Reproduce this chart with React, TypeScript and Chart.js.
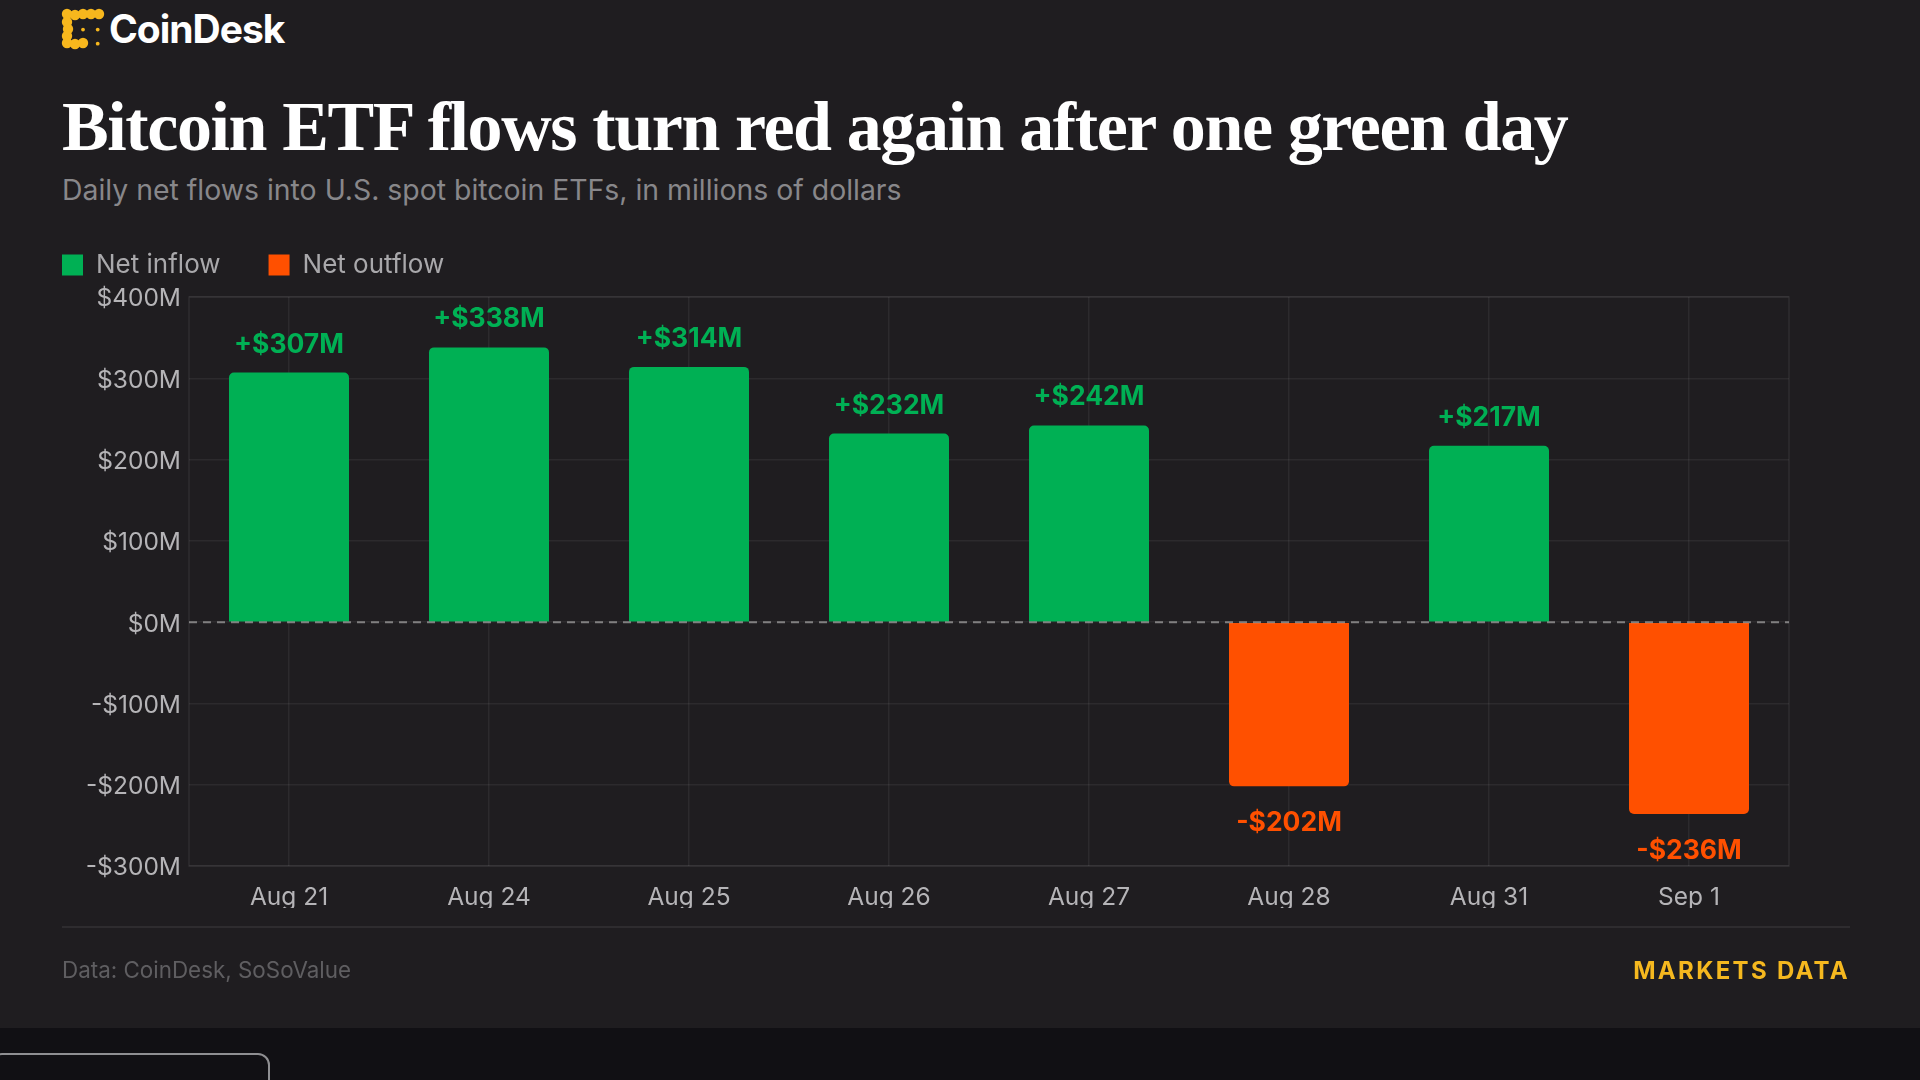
import React, { useEffect, useRef } from "react";
import { Chart, registerables } from "chart.js";

Chart.register(...registerables);

const categories = ["Aug 21", "Aug 24", "Aug 25", "Aug 26", "Aug 27", "Aug 28", "Aug 31", "Sep 1"];
const netInflow = [307, 338, 314, 232, 242, null, 217, null];
const netOutflow = [null, null, null, null, null, -202, null, -236];

const GREEN = "#00b054";
const ORANGE = "#ff5000";
const PANEL = "#1f1d20";
const SANS = "Inter, 'Noto Sans', sans-serif";
const LEGEND_PAD = 48;

const fmtAxis = (v: number) => (v < 0 ? `-$${Math.abs(v)}M` : `$${v}M`);
const fmtLabel = (v: number) => (v < 0 ? `-$${Math.abs(v)}M` : `+$${v}M`);

const chromePlugin = {
  id: "chrome",
  beforeDraw(chart: any) {
    const yScale = chart.scales.y;
    if (!yScale.__shifted) {
      yScale.getLabelItems(chart.chartArea).forEach((item: any) => {
        item.textOffset += 2;
      });
      yScale.__shifted = true;
    }
  },
  beforeDatasetsDraw(chart: any) {
    const { ctx, chartArea: a } = chart;
    ctx.save();
    ctx.strokeStyle = "rgba(255,255,255,0.07)";
    ctx.lineWidth = 1.5;
    ctx.strokeRect(a.left, a.top, a.right - a.left, a.bottom - a.top);
    ctx.restore();
  },
  afterDatasetsDraw(chart: any) {
    const { ctx, chartArea: a, scales } = chart;
    const y0 = scales.y.getPixelForValue(0);
    ctx.save();
    ctx.strokeStyle = "rgba(190,190,190,0.6)";
    ctx.lineWidth = 2;
    ctx.setLineDash([8, 6]);
    ctx.beginPath();
    ctx.moveTo(a.left, y0);
    ctx.lineTo(a.right, y0);
    ctx.stroke();
    ctx.setLineDash([]);
    ctx.font = `700 26.5px ${SANS}`;
    ctx.textAlign = "center";
    ctx.textBaseline = "middle";
    chart.data.datasets.forEach((ds: any, di: number) => {
      chart.getDatasetMeta(di).data.forEach((el: any, i: number) => {
        const v = ds.data[i];
        if (v === null || v === undefined) return;
        ctx.fillStyle = v < 0 ? ORANGE : GREEN;
        ctx.fillText(fmtLabel(v), el.x, v < 0 ? el.y + 37 : el.y - 28);
      });
    });
    ctx.restore();
  },
};

const legendFitPlugin = {
  id: "legendFit",
  beforeLayout(chart: any) {
    const lg = chart.legend;
    if (lg && !lg.__patched) {
      const fit = lg.fit;
      lg.fit = function () {
        fit.call(this);
        this.height = 93;
      };
      const draw = lg.draw;
      lg.draw = function () {
        const left = this.left;
        this.left = left - LEGEND_PAD;
        draw.call(this);
        this.left = left;
      };
      lg.__patched = true;
    }
  },
};

const logoChain: [number, number][] = [
  [67, 14], [75, 15], [83, 14], [91, 14], [99, 14],
  [67, 22], [68, 29], [67, 36], [67, 43],
  [75, 44], [83, 43],
];

export default function App() {
  const ref = useRef<HTMLCanvasElement>(null);
  useEffect(() => {
    const chart = new Chart(ref.current as HTMLCanvasElement, {
      type: "bar",
      data: {
        labels: categories,
        datasets: [
          { label: "Net inflow", data: netInflow, backgroundColor: GREEN, borderRadius: 5, grouped: false, barPercentage: 0.6, categoryPercentage: 1 } as any,
          { label: "Net outflow", data: netOutflow, backgroundColor: ORANGE, borderRadius: 5, grouped: false, barPercentage: 0.6, categoryPercentage: 1 } as any,
        ],
      },
      options: {
        responsive: false,
        animation: false,
        devicePixelRatio: 1,
        layout: { padding: { left: 62, top: 204, right: 131, bottom: 154 } },
        plugins: {
          title: { display: false },
          tooltip: { enabled: false },
          legend: {
            position: "top",
            align: "start",
            labels: {
              boxWidth: 21,
              boxHeight: 21,
              padding: LEGEND_PAD,
              color: "#a9a8ab",
              font: { family: SANS, size: 26 },
            },
          },
        },
        scales: {
          x: {
            afterFit: (s: any) => { s.height = 60; },
            grid: { offset: false, color: "rgba(255,255,255,0.06)", lineWidth: 1.5, drawTicks: false },
            border: { display: false },
            ticks: { color: "#b5b4b7", padding: 17, maxRotation: 0, font: { family: SANS, size: 24.5 } },
          },
          y: {
            min: -300,
            max: 400,
            afterFit: (s: any) => { s.width = 127; },
            grid: { color: "rgba(255,255,255,0.06)", lineWidth: 1.5, drawTicks: false },
            border: { display: false },
            ticks: { stepSize: 100, color: "#b5b4b7", padding: 8, font: { family: SANS, size: 24.5 }, callback: (v: any) => fmtAxis(Number(v)) },
          },
        },
      } as any,
      plugins: [chromePlugin, legendFitPlugin],
    });
    return () => chart.destroy();
  }, []);

  const abs = (o: React.CSSProperties): React.CSSProperties => ({ position: "absolute", whiteSpace: "nowrap", ...o });

  return (
    <div style={{ position: "fixed", left: 0, top: 0, width: 1920, height: 1080, overflow: "hidden", background: "#111014", fontFamily: SANS }}>
      <div style={abs({ left: 0, top: 0, width: 1920, height: 1028, background: PANEL })} />
      <svg style={abs({ left: 0, top: 0 })} width={120} height={60} viewBox="0 0 120 60">
        {logoChain.map(([cx, cy], i) => (
          <circle key={i} cx={cx} cy={cy} r={5.2} fill="#f7b71d" />
        ))}
        <circle cx={83} cy={29.6} r={1.9} fill="#f7b71d" />
        <circle cx={97.7} cy={29.6} r={1.9} fill="#f7b71d" />
        <circle cx={97.7} cy={43.7} r={1.9} fill="#f7b71d" />
      </svg>
      <div style={abs({ left: 109, top: 8, fontSize: 39, lineHeight: "42px", fontWeight: 700, letterSpacing: -1, color: "#ffffff" })}>CoinDesk</div>
      <div style={abs({ left: 62, top: 85, fontFamily: "'Liberation Serif', serif", fontSize: 70, lineHeight: "84px", fontWeight: 700, letterSpacing: -1.4, color: "#ffffff" })}>
        Bitcoin ETF flows turn red again after one green day
      </div>
      <div style={abs({ left: 62, top: 174, fontSize: 28.4, lineHeight: "32px", color: "#88878a" })}>
        Daily net flows into U.S. spot bitcoin ETFs, in millions of dollars
      </div>
      <canvas ref={ref} width={1920} height={1080} style={abs({ left: 0, top: 0, width: 1920, height: 1080 })} />
      <div style={abs({ left: 185, top: 908, width: 1620, height: 14, background: PANEL })} />
      <div style={abs({ left: 62, top: 926, width: 1788, height: 2, background: "rgba(255,255,255,0.07)" })} />
      <div style={abs({ left: 62, top: 956, fontSize: 22.4, lineHeight: "28px", color: "#5f5e61" })}>Data: CoinDesk, SoSoValue</div>
      <div style={abs({ right: 70, top: 956, fontSize: 24, lineHeight: "30px", fontWeight: 700, letterSpacing: 2.3, color: "#f5b81f" })}>MARKETS DATA</div>
      <div style={abs({ left: -10, top: 1053, width: 280, height: 60, border: "2px solid #8f8f92", borderRadius: 12, boxSizing: "border-box" })} />
    </div>
  );
}
